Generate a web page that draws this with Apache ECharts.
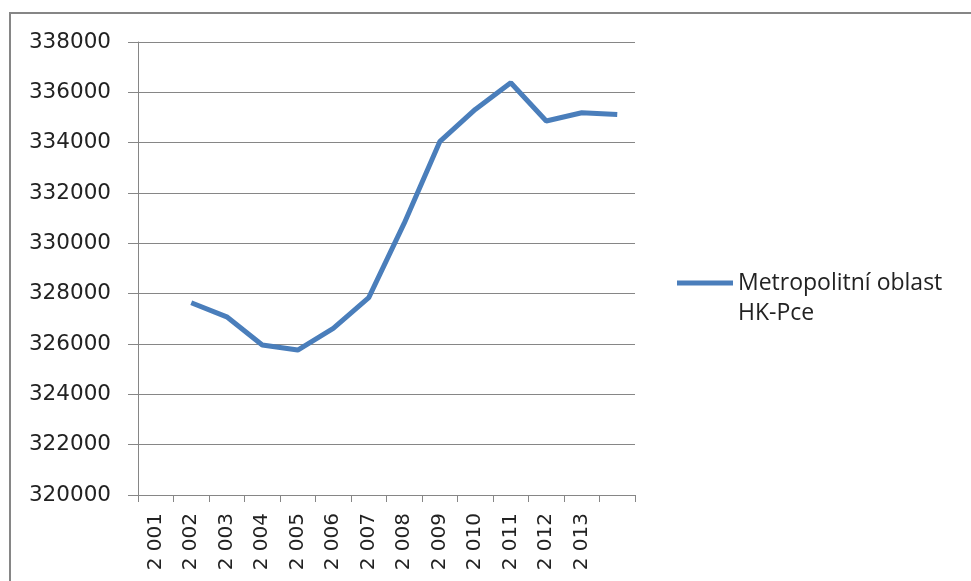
<!DOCTYPE html>
<html>
<head>
<meta charset="utf-8">
<script src="https://cdn.jsdelivr.net/npm/echarts@6/dist/echarts.min.js"></script>
<style>
    html, body {margin: 0; padding: 0; background: #fff;}
    #chart {width: 971px; height: 581px;}
</style>
</head>
<body>
<div id="chart"></div>
<script>
// years on the x axis, the last slot is empty in the original chart
const years = ['2 001', '2 002', '2 003', '2 004', '2 005', '2 006', '2 007',
    '2 008', '2 009', '2 010', '2 011', '2 012', '2 013', ''];
// population values (shifted one slot to the right like the source)
const population = [null, 327640, 327080, 325960, 325760, 326620, 327840,
    330800, 334040, 335320, 336380, 334860, 335190, 335120];
const seriesName = 'Metropolitní oblast\nHK-Pce';
const yTicks = {min: 320000, max: 338000, step: 2000};

const myChart = echarts.init(document.getElementById('chart'));
const grey = '#868686';

let option = {
    backgroundColor: '#fff',
    animation: false,
    graphic: [{
        type: 'rect',
        shape: {x: 10, y: 13, width: 990, height: 620},
        style: {fill: 'none', stroke: grey, lineWidth: 2},
        silent: true
    }],
    grid: {left: 138, right: 336, top: 42, bottom: 86, containLabel: false},
    legend: {
        data: [seriesName],
        left: 672,
        top: 263,
        // bar sits at the top of a taller box so it lines up with the first text line
        icon: 'path://M0,0L56,0L56,5L0,5Z M0,35L56,35',
        itemWidth: 56,
        itemHeight: 35,
        textStyle: {
            fontFamily: 'Open Sans',
            fontSize: 23,
            color: '#222',
            lineHeight: 30
        }
    },
    xAxis: {
        type: 'category',
        data: years,
        boundaryGap: true,
        axisLine: {lineStyle: {color: grey, width: 1}},
        axisTick: {show: true, length: 7, interval: 0, lineStyle: {color: grey}},
        axisLabel: {
            interval: 0,
            rotate: 90,
            margin: 18,
            fontFamily: 'DejaVu Sans',
            fontSize: 20,
            color: '#222'
        }
    },
    yAxis: {
        type: 'value',
        min: yTicks.min,
        max: yTicks.max,
        interval: yTicks.step,
        axisLine: {show: true, lineStyle: {color: grey, width: 1}},
        axisTick: {show: true, length: 10, lineStyle: {color: grey}},
        splitLine: {lineStyle: {color: grey, width: 1}},
        axisLabel: {
            margin: 27,
            fontFamily: 'DejaVu Sans',
            fontSize: 21.5,
            color: '#222',
            formatter: (v) => String(v)
        }
    },
    series: [{
        name: seriesName,
        type: 'line',
        data: population,
        showSymbol: false,
        symbol: 'none',
        lineStyle: {color: '#4a7ebb', width: 5},
        itemStyle: {color: '#4a7ebb'}
    }]
};
myChart.setOption(option, true);
</script>
</body>
</html>
